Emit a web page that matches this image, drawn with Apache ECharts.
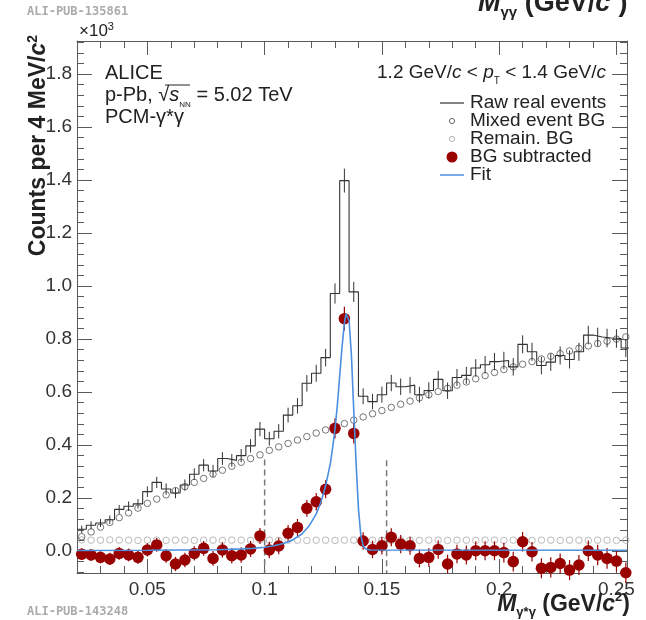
<!DOCTYPE html>
<html><head><meta charset="utf-8">
<script src="https://cdn.jsdelivr.net/npm/echarts@6/dist/echarts.min.js"></script>
<style>html,body{margin:0;padding:0;background:#fff}#c{width:646px;height:620px}</style>
</head><body><div id="c"></div>
<script>
// ---- data (values in units of 10^3 counts) ----
const binCenters = [
  0.022,0.026,0.030,0.034,0.038,0.042,0.046,0.050,0.054,0.058,
  0.062,0.066,0.070,0.074,0.078,0.082,0.086,0.090,0.094,0.098,
  0.102,0.106,0.110,0.114,0.118,0.122,0.126,0.130,0.134,0.138,
  0.142,0.146,0.150,0.154,0.158,0.162,0.166,0.170,0.174,0.178,
  0.182,0.186,0.190,0.194,0.198,0.202,0.206,0.210,0.214,0.218,
  0.222,0.226,0.230,0.234,0.238,0.242,0.246,0.250,0.254];
const binWidth = 0.004;
const rawReal = [
  0.082,0.097,0.106,0.118,0.157,0.169,0.178,0.224,0.259,0.234,
  0.219,0.249,0.290,0.324,0.302,0.349,0.342,0.360,0.397,0.460,
  0.424,0.452,0.513,0.548,0.633,0.671,0.730,0.972,1.398,0.978,
  0.584,0.564,0.590,0.634,0.620,0.626,0.590,0.606,0.648,0.605,
  0.655,0.663,0.691,0.703,0.715,0.719,0.695,0.780,0.752,0.700,
  0.713,0.738,0.723,0.752,0.815,0.808,0.804,0.802,0.766];
const rawErr = [
  0.014,0.015,0.015,0.016,0.017,0.018,0.018,0.020,0.021,0.021,
  0.020,0.021,0.022,0.023,0.023,0.024,0.024,0.025,0.025,0.027,
  0.026,0.027,0.028,0.029,0.031,0.032,0.033,0.038,0.045,0.038,
  0.030,0.029,0.030,0.031,0.031,0.031,0.030,0.031,0.032,0.031,
  0.032,0.032,0.033,0.033,0.033,0.033,0.033,0.034,0.034,0.033,
  0.033,0.034,0.034,0.034,0.035,0.035,0.035,0.035,0.034];
const mixedBG = [
  0.054,0.072,0.090,0.108,0.126,0.144,0.162,0.180,0.196,0.212,
  0.228,0.243,0.259,0.274,0.290,0.305,0.320,0.335,0.349,0.363,
  0.380,0.393,0.406,0.419,0.432,0.445,0.457,0.469,0.481,0.494,
  0.506,0.518,0.530,0.542,0.554,0.566,0.578,0.590,0.602,0.614,
  0.626,0.638,0.650,0.662,0.674,0.685,0.695,0.705,0.715,0.725,
  0.735,0.745,0.755,0.765,0.774,0.783,0.792,0.800,0.808];
const remainBG = [
  0.042,0.041,0.041,0.042,0.041,0.041,0.040,0.041,0.041,0.040,
  0.041,0.041,0.040,0.041,0.041,0.040,0.041,0.041,0.040,0.041,
  0.041,0.040,0.041,0.041,0.040,0.041,0.041,0.040,0.041,0.041,
  0.040,0.041,0.041,0.040,0.041,0.041,0.040,0.041,0.041,0.040,
  0.041,0.041,0.040,0.041,0.041,0.040,0.041,0.041,0.040,0.041,
  0.041,0.040,0.041,0.041,0.040,0.041,0.041,0.040,0.041];
const bgSubtracted = [
  -0.012,-0.015,-0.024,-0.030,-0.009,-0.015,-0.024,0.004,0.023,-0.018,
  -0.049,-0.034,-0.009,0.010,-0.028,0.004,-0.018,-0.015,0.008,0.057,
  0.004,0.019,0.067,0.089,0.161,0.186,0.233,0.463,0.877,0.444,
  0.038,0.006,0.020,0.052,0.026,0.020,-0.028,-0.024,0.006,-0.049,
  -0.011,-0.015,0.001,0.001,0.001,-0.006,-0.040,0.035,-0.003,-0.065,
  -0.062,-0.047,-0.072,-0.053,0.001,-0.015,-0.028,-0.038,-0.082];
const bgSubErr = [
  0.022,0.022,0.023,0.023,0.024,0.024,0.025,0.025,0.026,0.026,
  0.027,0.027,0.027,0.028,0.028,0.029,0.029,0.029,0.030,0.030,
  0.031,0.031,0.031,0.032,0.032,0.033,0.034,0.038,0.045,0.038,
  0.033,0.033,0.033,0.034,0.034,0.034,0.034,0.035,0.035,0.035,
  0.035,0.036,0.036,0.036,0.036,0.037,0.037,0.037,0.037,0.038,
  0.038,0.038,0.038,0.038,0.039,0.039,0.039,0.039,0.039];
const fitX = [0.020,0.050,0.080,0.090,0.095,0.100,0.104,0.108,0.112,0.116,0.119,0.122,0.124,0.126,0.128,0.129,0.130,0.131,0.132,0.133,0.134,0.1347,0.1353,0.136,0.137,0.138,0.139,0.140,0.141,0.142,0.143,0.145,0.2545];
const fitY = [0.002,0.003,0.005,0.008,0.010,0.014,0.020,0.028,0.042,0.065,0.095,0.140,0.185,0.245,0.330,0.390,0.460,0.550,0.660,0.770,0.860,0.895,0.900,0.870,0.740,0.530,0.330,0.160,0.060,0.020,0.008,0.004,0.003];
const windowX = [0.100, 0.152];
const windowTop = [0.345, 0.343];
const xTickLabels = [0.05, 0.1, 0.15, 0.2, 0.25];
const yTickLabels = [0.0, 0.2, 0.4, 0.6, 0.8, 1.0, 1.2, 1.4, 1.6, 1.8];

// ---- layout / style ----
const X_MIN = 0.02, X_MAX = 0.2545, Y_MIN = -0.083, Y_MAX = 1.925;
const FONT = '"Liberation Sans", Arial, Helvetica, sans-serif';
const AX = '#5a5a5a', TXT = '#222';
const RED = '#990000', BLUE = '#4a8fe0';

const xMinor = []; for (let i = 2; i <= 25; i++) xMinor.push(+(i / 100).toFixed(2));
const yMinor = []; for (let i = -2; i <= 48; i++) yMinor.push(+(i * 0.04).toFixed(2));

function xAxisDef(pos, ticks, len, labels, line) {
  return {
    type: 'value', position: pos, min: X_MIN, max: X_MAX,
    axisLine: { show: line, onZero: false, lineStyle: { color: AX, width: 1 } },
    axisTick: { show: true, inside: true, length: len, customValues: ticks, lineStyle: { color: AX, width: 1 } },
    axisLabel: labels ? { show: true, customValues: xTickLabels, margin: 7, color: '#333', fontSize: 19, fontFamily: FONT,
      formatter: v => String(+v.toFixed(2)) } : { show: false },
    splitLine: { show: false }
  };
}
function yAxisDef(pos, ticks, len, labels, line) {
  return {
    type: 'value', position: pos, min: Y_MIN, max: Y_MAX,
    axisLine: { show: line, onZero: false, lineStyle: { color: AX, width: 1 } },
    axisTick: { show: true, inside: true, length: len, customValues: ticks, lineStyle: { color: AX, width: 1 } },
    axisLabel: labels ? { show: true, customValues: yTickLabels, margin: 5, color: '#333', fontSize: 19, fontFamily: FONT,
      formatter: v => v.toFixed(1) } : { show: false },
    splitLine: { show: false }
  };
}

// histogram steps from bin edges
const rawStep = [];
binCenters.forEach((c, i) => {
  rawStep.push([c - binWidth / 2, rawReal[i]]);
  rawStep.push([c + binWidth / 2, rawReal[i]]);
});
const rawErrData = binCenters.map((c, i) => [c, rawReal[i] - rawErr[i], rawReal[i] + rawErr[i]]);
const subErrData = binCenters.map((c, i) => [c, bgSubtracted[i] - bgSubErr[i], bgSubtracted[i] + bgSubErr[i]]);

function errRender(color, w) {
  return function (params, api) {
    const x = api.value(0);
    const p1 = api.coord([x, api.value(1)]);
    const p2 = api.coord([x, api.value(2)]);
    return { type: 'line', shape: { x1: p1[0], y1: p1[1], x2: p2[0], y2: p2[1] }, style: { stroke: color, lineWidth: w } };
  };
}

const richMain = (fs, lh, bold) => ({ fontSize: fs, lineHeight: lh, fontFamily: FONT, fill: TXT, fontWeight: bold ? 'bold' : 'normal' });

function txt(x, y, text, extra) {
  return { type: 'text', x: x, y: y, silent: true, z: 100,
    style: Object.assign({ text: text, fontFamily: FONT, fontSize: 19, fill: TXT, align: 'left', verticalAlign: 'middle' }, extra || {}) };
}
function titleRich(fs) {
  return {
    b: Object.assign(richMain(fs, fs + 5, true), { fontStyle: 'italic' }),
    s: Object.assign(richMain(Math.round(fs * 0.56), Math.round(fs * 0.52), true), { verticalAlign: 'bottom' }),
    n: richMain(fs, fs + 5, true),
    i: Object.assign(richMain(fs, fs + 5, true), { fontStyle: 'italic' }),
    p: Object.assign(richMain(Math.round(fs * 0.56), Math.round(fs * 0.52), true), { verticalAlign: 'top' })
  };
}

const graphics = [
  txt(27, 12, 'ALI-PUB-135861', { fontFamily: '"DejaVu Sans Mono", monospace', fontSize: 12, fontWeight: 'bold', fill: '#aaa' }),
  txt(27, 612, 'ALI-PUB-143248', { fontFamily: '"DejaVu Sans Mono", monospace', fontSize: 12, fontWeight: 'bold', fill: '#aaa' }),
  // clipped top title (from the upper panel)
  txt(478, 4, '{b|M}{s|γγ}{n| (GeV/}{i|c}{p|2}{n|)}', { rich: titleRich(27) }),
  // x10^3
  txt(79, 31, '{n|×10}{p|3}', { rich: { n: richMain(17, 20), p: Object.assign(richMain(11, 11), { verticalAlign: 'top' }) } }),
  // y axis title (rotated)
  Object.assign(txt(39, 35, '{n|Counts per 4 MeV/}{i|c}{p|2}', {
    align: 'right',
    rich: {
      n: richMain(23, 26, true),
      i: Object.assign(richMain(23, 26, true), { fontStyle: 'italic' }),
      p: Object.assign(richMain(14, 13, true), { verticalAlign: 'top' })
    } }), { rotation: Math.PI / 2 }),
  // x axis title
  txt(630, 605, '{b|M}{s|γ*γ}{n| (GeV/}{i|c}{p|2}{n|)}', { align: 'right', rich: titleRich(23) }),
  // info text
  txt(105, 73, 'ALICE', { fontSize: 20 }),
  txt(105, 95, '{n|p-Pb, √}{i|s}{s|NN}{n| = 5.02 TeV}', {
    rich: {
      n: richMain(20, 27), i: Object.assign(richMain(20, 27), { fontStyle: 'italic' }),
      s: Object.assign(richMain(8, 9), { verticalAlign: 'bottom' })
    } }),
  { type: 'line', silent: true, z: 100, shape: { x1: 165, y1: 85, x2: 190, y2: 85 }, style: { stroke: TXT, lineWidth: 1 } },
  txt(105, 117, 'PCM-γ*γ', { fontSize: 20 }),
  txt(606, 73, '{n|1.2 GeV/}{i|c}{n| < }{i|p}{s|T}{n| < 1.4 GeV/}{i|c}', {
    align: 'right',
    rich: {
      n: richMain(19, 26), i: Object.assign(richMain(19, 26), { fontStyle: 'italic' }),
      s: Object.assign(richMain(10, 10), { verticalAlign: 'bottom' })
    } }),
  // legend
  { type: 'line', silent: true, z: 100, shape: { x1: 440, y1: 103, x2: 464, y2: 103 }, style: { stroke: '#333', lineWidth: 1.2 } },
  txt(470, 103, 'Raw real events'),
  { type: 'circle', silent: true, z: 100, shape: { cx: 452, cy: 121, r: 2.6 }, style: { fill: 'none', stroke: '#555', lineWidth: 0.9 } },
  txt(470, 121, 'Mixed event BG'),
  { type: 'circle', silent: true, z: 100, shape: { cx: 452, cy: 139, r: 2.6 }, style: { fill: 'none', stroke: '#aaa', lineWidth: 0.9 } },
  txt(470, 139, 'Remain. BG'),
  { type: 'circle', silent: true, z: 100, shape: { cx: 452, cy: 157, r: 5.5 }, style: { fill: RED } },
  txt(470, 157, 'BG subtracted'),
  { type: 'line', silent: true, z: 100, shape: { x1: 440, y1: 175, x2: 464, y2: 175 }, style: { stroke: BLUE, lineWidth: 1.5 } },
  txt(470, 175, 'Fit')
];

const chart = echarts.init(document.getElementById('c'), null, { renderer: 'canvas' });
chart.setOption({
  animation: false,
  backgroundColor: '#fff',
  grid: { left: 77, right: 19, top: 41, bottom: 47, containLabel: false, outerBoundsMode: 'none' },
  xAxis: [
    xAxisDef('bottom', xTickLabels, 14, true, true),
    xAxisDef('bottom', xMinor, 7, false, false),
    xAxisDef('top', xTickLabels, 14, false, true),
    xAxisDef('top', xMinor, 7, false, false)
  ],
  yAxis: [
    yAxisDef('left', yTickLabels, 15, true, true),
    yAxisDef('left', yMinor, 7, false, false),
    yAxisDef('right', yTickLabels, 15, false, true),
    yAxisDef('right', yMinor, 7, false, false)
  ],
  series: [
    { name: 'Remain. BG', type: 'scatter', data: binCenters.map((c, i) => [c, remainBG[i]]), symbol: 'circle', symbolSize: 6.5,
      itemStyle: { color: 'rgba(0,0,0,0)', borderColor: '#a8a8a8', borderWidth: 1 }, z: 2 },
    { name: 'Mixed event BG', type: 'scatter', data: binCenters.map((c, i) => [c, mixedBG[i]]), symbol: 'circle', symbolSize: 6.5,
      itemStyle: { color: 'rgba(0,0,0,0)', borderColor: '#555', borderWidth: 1 }, z: 3 },
    { name: 'Raw real events', type: 'line', data: rawStep, symbol: 'none', lineStyle: { color: '#333', width: 1.1 }, z: 4 },
    { name: 'raw err', type: 'custom', data: rawErrData, renderItem: errRender('#333', 1), encode: { x: 0, y: [1, 2] }, z: 4 },
    ...windowX.map((x, i) => ({ name: 'window' + i, type: 'line', data: [[x, windowTop[i]], [x, Y_MIN]], symbol: 'none',
      lineStyle: { color: '#777', width: 1.5, type: [6, 4] }, z: 5 })),
    { name: 'sub err', type: 'custom', data: subErrData, renderItem: errRender(RED, 1.2), encode: { x: 0, y: [1, 2] }, z: 6 },
    { name: 'BG subtracted', type: 'scatter', data: binCenters.map((c, i) => [c, bgSubtracted[i]]), symbol: 'circle', symbolSize: 11.5,
      itemStyle: { color: RED, opacity: 1 }, z: 7 },
    { name: 'Fit', type: 'line', data: fitX.map((x, i) => [x, fitY[i]]), symbol: 'none', lineStyle: { color: BLUE, width: 1.6 }, z: 8 }
  ],
  graphic: graphics
});
</script>
</body></html>
